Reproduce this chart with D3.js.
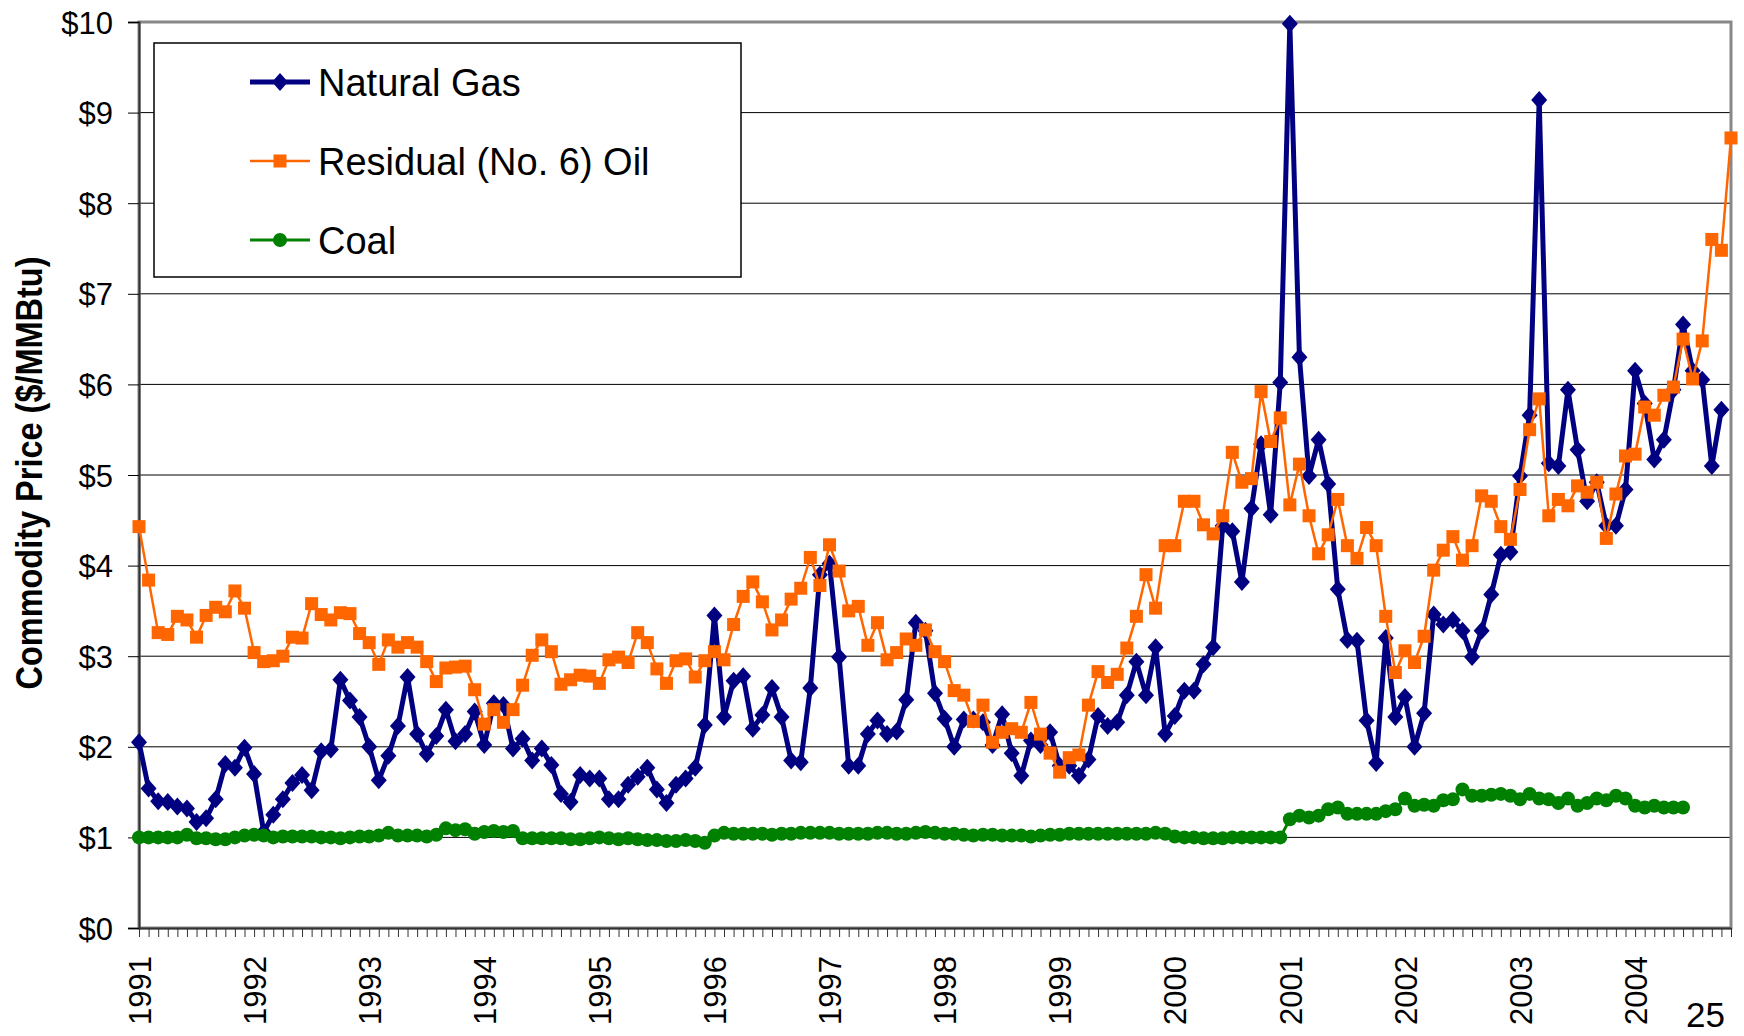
<!DOCTYPE html>
<html>
	<head>
		<meta charset="utf-8">
		<title>Commodity Prices</title>
		<script src="https://cdn.jsdelivr.net/npm/d3@7"></script>
		<style>
			body { margin: 0; background: #fff; }
			text { font-family: "Liberation Sans", Arial, sans-serif; fill: #000; }
		</style>
	</head>
	<body>
		<div class="main_div"></div>
		<script>

			// Dados (mensal, jan 1991 -> nov 2004)
			var yearLabels = ["1991","1992","1993","1994","1995","1996","1997","1998","1999","2000","2001","2002","2003","2004"];
			var yTickValues = [0,1,2,3,4,5,6,7,8,9,10];
			var seriesNames = ["Natural Gas", "Residual (No. 6) Oil", "Coal"];

			var gasPrices = [
				2.05,1.54,1.40,1.39,1.34,1.32,1.17,1.21,1.42,1.81,1.77,1.99,
				1.70,1.06,1.25,1.42,1.60,1.69,1.52,1.95,1.97,2.74,2.51,2.33,
				2.00,1.63,1.90,2.23,2.77,2.14,1.92,2.12,2.41,2.06,2.14,2.39,
				2.02,2.48,2.46,1.98,2.09,1.85,1.98,1.80,1.48,1.39,1.69,1.65,
				1.65,1.42,1.42,1.58,1.67,1.77,1.53,1.38,1.58,1.65,1.77,2.24,
				3.45,2.33,2.73,2.78,2.20,2.35,2.65,2.33,1.85,1.83,2.65,3.90,
				4.02,2.99,1.79,1.79,2.14,2.29,2.14,2.17,2.52,3.37,3.28,2.59,
				2.31,2.00,2.30,2.30,2.27,2.02,2.36,1.93,1.68,2.07,2.02,2.16,
				1.79,1.79,1.68,1.86,2.34,2.23,2.27,2.57,2.94,2.57,3.10,2.14,
				2.34,2.62,2.62,2.91,3.10,4.44,4.38,3.82,4.63,5.34,4.56,6.02,
				9.98,6.30,4.99,5.39,4.90,3.74,3.18,3.17,2.29,1.82,3.20,2.33,
				2.55,2.00,2.37,3.46,3.35,3.40,3.28,2.99,3.28,3.68,4.12,4.15,
				4.99,5.66,9.14,5.13,5.10,5.94,5.28,4.71,4.92,4.44,4.44,4.84,
				6.15,5.79,5.17,5.39,5.94,6.66,6.15,6.05,5.10,5.72
			];
			var oilPrices = [
				4.43,3.84,3.26,3.24,3.44,3.40,3.21,3.45,3.54,3.49,3.72,3.53,
				3.04,2.94,2.95,3.00,3.21,3.20,3.58,3.46,3.40,3.48,3.47,3.25,
				3.15,2.91,3.18,3.10,3.15,3.10,2.94,2.72,2.87,2.88,2.89,2.63,
				2.25,2.41,2.27,2.41,2.68,3.01,3.18,3.05,2.69,2.74,2.79,2.78,
				2.70,2.96,2.99,2.93,3.26,3.15,2.86,2.70,2.95,2.97,2.77,2.95,
				3.05,2.96,3.35,3.66,3.82,3.60,3.29,3.40,3.63,3.75,4.09,3.78,
				4.23,3.94,3.50,3.55,3.12,3.37,2.96,3.04,3.19,3.12,3.29,3.05,
				2.94,2.62,2.57,2.28,2.46,2.05,2.16,2.20,2.16,2.49,2.14,1.93,
				1.72,1.88,1.91,2.46,2.83,2.71,2.80,3.09,3.44,3.90,3.53,4.22,
				4.22,4.71,4.71,4.45,4.35,4.55,5.25,4.92,4.96,5.92,5.37,5.63,
				4.67,5.12,4.55,4.13,4.34,4.73,4.22,4.08,4.42,4.22,3.44,2.82,
				3.06,2.93,3.22,3.95,4.17,4.32,4.06,4.22,4.77,4.71,4.43,4.29,
				4.84,5.50,5.84,4.55,4.73,4.66,4.88,4.81,4.92,4.30,4.79,5.21,
				5.23,5.75,5.66,5.88,5.97,6.50,6.06,6.48,7.60,7.48,8.72
			];
			var coalPrices = [
				1.00,1.00,1.00,1.00,1.00,1.03,0.99,0.99,0.98,0.98,1.00,1.02,
				1.03,1.02,1.00,1.01,1.01,1.01,1.01,1.00,1.00,0.99,1.00,1.01,
				1.01,1.02,1.05,1.02,1.02,1.02,1.01,1.03,1.10,1.08,1.09,1.04,
				1.06,1.07,1.06,1.07,0.99,0.99,0.99,0.99,0.99,0.98,0.98,0.99,
				1.00,0.99,0.98,0.99,0.98,0.97,0.97,0.96,0.96,0.97,0.96,0.94,
				1.02,1.05,1.04,1.04,1.04,1.04,1.03,1.04,1.04,1.05,1.05,1.05,
				1.05,1.04,1.04,1.04,1.04,1.05,1.05,1.04,1.04,1.05,1.06,1.05,
				1.04,1.04,1.03,1.02,1.03,1.03,1.02,1.02,1.02,1.01,1.02,1.03,
				1.03,1.04,1.04,1.04,1.04,1.04,1.04,1.04,1.04,1.04,1.05,1.04,
				1.01,1.00,1.00,0.99,0.99,0.99,1.00,1.00,1.00,1.00,1.00,1.00,
				1.20,1.24,1.22,1.24,1.31,1.33,1.26,1.26,1.26,1.26,1.29,1.31,
				1.43,1.35,1.36,1.35,1.41,1.42,1.53,1.46,1.46,1.47,1.48,1.46,
				1.42,1.48,1.43,1.42,1.38,1.43,1.35,1.38,1.43,1.41,1.46,1.43,
				1.35,1.33,1.35,1.33,1.33,1.33
			];

			// Svg
			var W = 1744, H = 1036;
			var plotLeft = 139, plotRight = 1731, plotTop = 22, plotBottom = 928;
			var nMonths = oilPrices.length;

			var svg = d3.select(".main_div").append("svg")
				.attr("width", W).attr("height", H);

			// Escalas
			var xScale = d3.scaleLinear().domain([0, nMonths - 1]).range([plotLeft, plotRight]);
			var yScale = d3.scaleLinear().domain([0, 10]).range([plotBottom, plotTop]);

			// Grade horizontal
			svg.append("g").selectAll("line").data(yTickValues.filter(function(d){ return d > 0 && d < 10; }))
				.enter().append("line")
				.attr("x1", plotLeft).attr("x2", plotRight)
				.attr("y1", function(d){ return yScale(d); })
				.attr("y2", function(d){ return yScale(d); })
				.attr("stroke", "#000").attr("stroke-width", 1);

			// Borda da area do grafico
			svg.append("rect")
				.attr("x", plotLeft).attr("y", plotTop)
				.attr("width", plotRight - plotLeft).attr("height", plotBottom - plotTop)
				.attr("fill", "none").attr("stroke", "#888").attr("stroke-width", 3);

			// Eixo Y
			var yAxis = d3.axisLeft(yScale).tickValues(yTickValues).tickSize(11).tickPadding(15)
				.tickFormat(function(d){ return "$" + d; });
			var yAxisGroup = svg.append("g").attr("transform", "translate(" + plotLeft + ",0)").call(yAxis);
			yAxisGroup.select(".domain").attr("stroke", "#333").attr("stroke-width", 2);
			yAxisGroup.selectAll(".tick line").attr("stroke", "#000");
			yAxisGroup.selectAll("text").style("font-size", "31px").attr("font-family", null).attr("dy", "0.36em");

			// Eixo X (um tick por mes, rotulo a cada ano)
			var xAxis = d3.axisBottom(xScale).tickValues(d3.range(nMonths)).tickSize(9).tickSizeOuter(0)
				.tickFormat(function(i){ return i % 12 === 0 ? yearLabels[i / 12] : ""; });
			var xAxisGroup = svg.append("g").attr("transform", "translate(0," + plotBottom + ")").call(xAxis);
			xAxisGroup.select(".domain").attr("stroke", "#333").attr("stroke-width", 2);
			xAxisGroup.selectAll(".tick line").attr("stroke", "#333");
			xAxisGroup.selectAll("text")
				.attr("transform", "rotate(-90)")
				.attr("x", -28).attr("y", 0).attr("dy", "0.36em")
				.attr("text-anchor", "end").attr("font-family", null)
				.style("font-size", "31px");

			// Series
			var series = [
				{ name: seriesNames[0], values: gasPrices, color: "#000080", width: 5, marker: "diamond" },
				{ name: seriesNames[1], values: oilPrices, color: "#FF6600", width: 2.5, marker: "square" },
				{ name: seriesNames[2], values: coalPrices, color: "#008000", width: 3, marker: "circle" }
			];

			function drawMarker(g, type, color) {
				if (type === "diamond") {
					g.append("path").attr("d", "M0,-9L8,0L0,9L-8,0Z").attr("fill", color);
				} else if (type === "square") {
					g.append("rect").attr("x", -6.5).attr("y", -6.5).attr("width", 13).attr("height", 13).attr("fill", color);
				} else {
					g.append("circle").attr("r", 7).attr("fill", color);
				}
			}

			var line = d3.line()
				.x(function(d, i){ return xScale(i); })
				.y(function(d){ return yScale(d); });

			series.forEach(function(s) {
				var g = svg.append("g");
				g.append("path").datum(s.values).attr("d", line)
					.attr("fill", "none").attr("stroke", s.color)
					.attr("stroke-width", s.width).attr("stroke-linejoin", "round");
				g.selectAll("g.mk").data(s.values).enter().append("g")
					.attr("class", "mk")
					.attr("transform", function(d, i){ return "translate(" + xScale(i) + "," + yScale(d) + ")"; })
					.each(function(){ drawMarker(d3.select(this), s.marker, s.color); });
			});

			// Legenda
			var legend = svg.append("g");
			legend.append("rect").attr("x", 154).attr("y", 43).attr("width", 587).attr("height", 234)
				.attr("fill", "#fff").attr("stroke", "#000").attr("stroke-width", 1.5);
			series.forEach(function(s, k) {
				var ly = 82 + k * 79;
				legend.append("line").attr("x1", 250).attr("x2", 310).attr("y1", ly).attr("y2", ly)
					.attr("stroke", s.color).attr("stroke-width", s.width);
				var mk = legend.append("g").attr("transform", "translate(280," + ly + ")");
				drawMarker(mk, s.marker, s.color);
				legend.append("text").attr("x", 318).attr("y", ly).attr("dy", "0.36em")
					.style("font-size", "38px").text(s.name);
			});

			// Titulo do eixo Y
			svg.append("text")
				.attr("transform", "translate(29,473) rotate(-90)")
				.attr("text-anchor", "middle").attr("dy", "0.36em")
				.attr("textLength", 433).attr("lengthAdjust", "spacingAndGlyphs")
				.style("font-size", "36px").style("font-weight", "bold")
				.text("Commodity Price ($/MMBtu)");

			// Numero da pagina
			svg.append("text").attr("x", 1725).attr("y", 1027).attr("text-anchor", "end")
				.style("font-size", "35px").text("25");

		</script>
	</body>
</html>
